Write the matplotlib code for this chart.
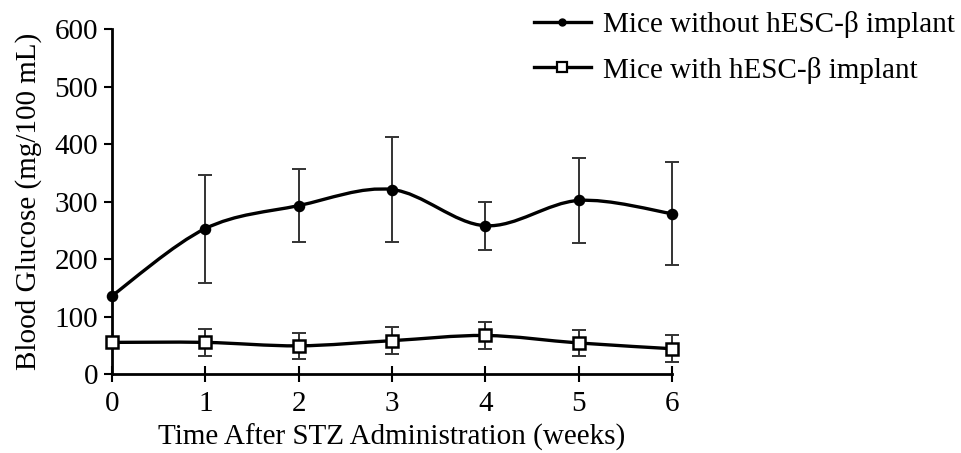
import numpy as np
import matplotlib.pyplot as plt
from matplotlib.path import Path
from matplotlib.patches import PathPatch
from matplotlib.lines import Line2D

plt.rcParams['font.family'] = ['Liberation Serif', 'DejaVu Serif']

weeks = [0, 1, 2, 3, 4, 5, 6]
no_implant = [136, 253, 293, 321, 258, 302, 279]
no_implant_err = [0, 94, 63, 91, 42, 74, 90]
implant = [55, 55, 49, 58, 67, 54, 44]
implant_err = [0, 23, 23, 23, 23, 23, 23]


def smooth_path(xs, ys):
    # Catmull-Rom segments written as cubic bezier pieces
    p = np.column_stack([xs, ys]).astype(float)
    ext = np.vstack([p[0], p, p[-1]])
    verts = [tuple(p[0])]
    codes = [Path.MOVETO]
    for i in range(len(p) - 1):
        p0, p1, p2, p3 = ext[i], ext[i + 1], ext[i + 2], ext[i + 3]
        c1 = p1 + (p2 - p0) / 6
        c2 = p2 - (p3 - p1) / 6
        verts += [tuple(c1), tuple(c2), tuple(p2)]
        codes += [Path.CURVE4] * 3
    return Path(verts, codes)


fig = plt.figure(figsize=(9.61, 4.53), dpi=100)
ax = fig.add_axes([0.1165, 0.1744, 0.5827, 0.7612])

for vals, errs, mk, face, ms in [(no_implant, no_implant_err, 'o', 'black', 6.5),
                                  (implant, implant_err, 's', 'white', 8)]:
    ax.add_patch(PathPatch(smooth_path(weeks, vals), fill=False, lw=2.4,
                           color='black', zorder=3, clip_on=False))
    e = np.array(errs, dtype=float)
    m = e > 0
    ax.errorbar(np.array(weeks)[m], np.array(vals)[m], yerr=e[m], fmt='none',
                ecolor='#333333', elinewidth=1.4, capsize=5, capthick=1.4,
                zorder=2, clip_on=False)
    ax.plot(weeks, vals, ls='none', marker=mk, ms=ms, mfc=face, mec='black',
            mew=1.8, zorder=4, clip_on=False)

ax.set_xlim(0, 6)
ax.set_ylim(0, 600)
ax.set_xticks(weeks)
ax.set_yticks(range(0, 601, 100))
for s in ['top', 'right']:
    ax.spines[s].set_visible(False)
for s in ['left', 'bottom']:
    ax.spines[s].set_linewidth(2)
ax.tick_params(axis='y', direction='out', length=6, width=1.5, labelsize=21, pad=4)
ax.tick_params(axis='x', direction='inout', length=12, width=1.5, labelsize=21, pad=6)
ax.set_xlabel('Time After STZ Administration (weeks)', fontsize=21, labelpad=5)
ax.set_ylabel('Blood Glucose (mg/100 mL)', fontsize=21, labelpad=9)

handles = [
    Line2D([], [], color='black', lw=2.4, marker='o', ms=5, mfc='black'),
    Line2D([], [], color='black', lw=2.4, marker='s', ms=6.5, mfc='white', mew=1.6),
]
fig.legend(handles, ['Mice without hESC-\u03b2 implant', 'Mice with hESC-\u03b2 implant'],
           loc='upper left', bbox_to_anchor=(0.528, 1.034), frameon=False,
           fontsize=21, handlelength=1.95, handletextpad=0.42, labelspacing=0.64)

fig.savefig('out.png', dpi=100)
